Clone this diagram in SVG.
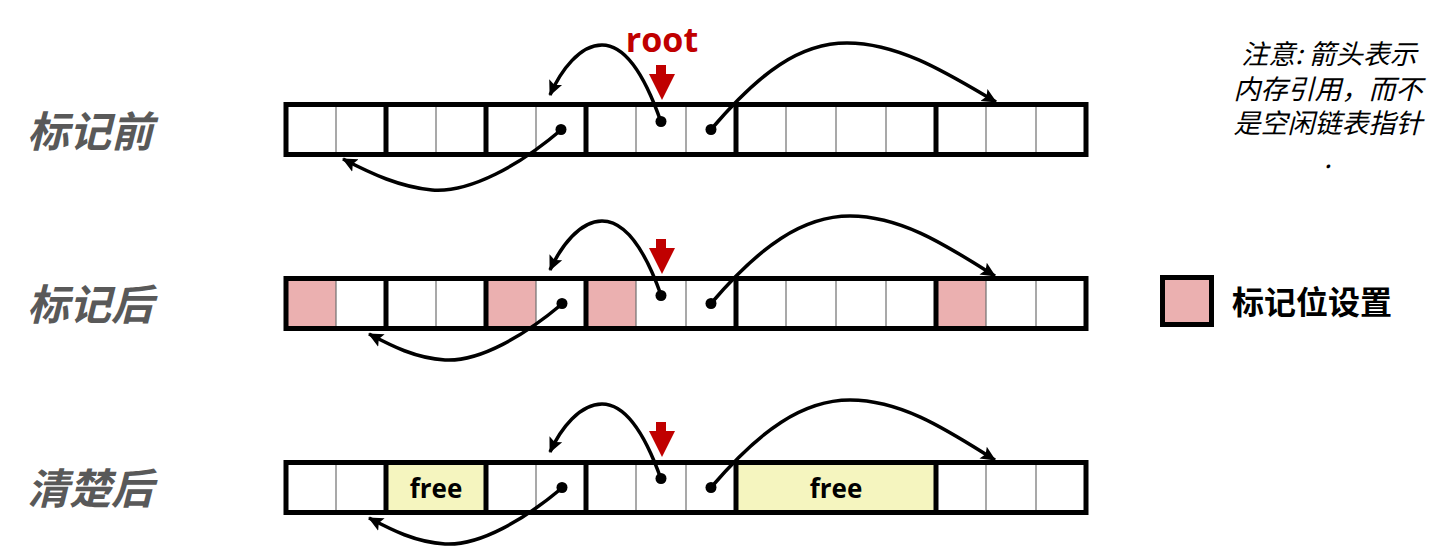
<svg xmlns="http://www.w3.org/2000/svg" width="1449" height="549" viewBox="0 0 1449 549">
<style>
.frame{fill:none;stroke:#000;stroke-width:5}
.thick{stroke:#000;stroke-width:5}
.thin{stroke:#707070;stroke-width:1.2}
.mark{fill:#ebb0b0}
.free{fill:#f5f5bf}
.conn{fill:none;stroke:#000;stroke-width:3.5}
.dot{fill:#000}
.rootarrow{fill:#c00000}
.lbl{font-family:"Noto Sans CJK SC","Noto Sans",sans-serif;font-size:42px;font-weight:bold;font-style:italic;fill:#595959}
.note{font-family:"Noto Sans CJK SC","Noto Sans",sans-serif;font-size:27px;font-style:italic;fill:#000}
.leg{font-family:"Noto Sans CJK SC","Noto Sans",sans-serif;font-size:32px;font-weight:bold;fill:#000}
.word{font-family:"Open Sans","Liberation Sans",sans-serif;font-weight:bold;fill:#000}
</style>
<defs>
<marker id="ah" markerUnits="userSpaceOnUse" markerWidth="16" markerHeight="16" viewBox="0 0 16 16" refX="14" refY="8" orient="auto">
<path d="M0,1 L15,8 L0,15 L3,8 Z" fill="#000"/>
</marker>
</defs>

<g id="label-before"><text class="lbl" x="27" y="147">标记前</text></g>
<g id="label-after-mark"><text class="lbl" x="27" y="320">标记后</text></g>
<g id="label-after-sweep"><text class="lbl" x="27" y="504">清楚后</text></g>

<g id="root-label"><text class="word" x="662" y="52" font-size="34" text-anchor="middle" style="fill:#c00000">root</text></g>

<g id="row-before">
<line class="thin" x1="336" y1="104.5" x2="336" y2="154.5"/>
<line class="thin" x1="436" y1="104.5" x2="436" y2="154.5"/>
<line class="thin" x1="536" y1="104.5" x2="536" y2="154.5"/>
<line class="thin" x1="636" y1="104.5" x2="636" y2="154.5"/>
<line class="thin" x1="686" y1="104.5" x2="686" y2="154.5"/>
<line class="thin" x1="786" y1="104.5" x2="786" y2="154.5"/>
<line class="thin" x1="836" y1="104.5" x2="836" y2="154.5"/>
<line class="thin" x1="886" y1="104.5" x2="886" y2="154.5"/>
<line class="thin" x1="986" y1="104.5" x2="986" y2="154.5"/>
<line class="thin" x1="1036" y1="104.5" x2="1036" y2="154.5"/>
<line class="thick" x1="386" y1="104.5" x2="386" y2="154.5"/>
<line class="thick" x1="486" y1="104.5" x2="486" y2="154.5"/>
<line class="thick" x1="586" y1="104.5" x2="586" y2="154.5"/>
<line class="thick" x1="736" y1="104.5" x2="736" y2="154.5"/>
<line class="thick" x1="936" y1="104.5" x2="936" y2="154.5"/>
<rect class="frame" x="286" y="104.5" width="800" height="50"/>
<polygon class="rootarrow" points="656,65 666,65 666,74 675,74 662,100 649,74 656,74"/>
</g>

<g id="row-after-mark">
<rect class="mark" x="286" y="278.5" width="50" height="50"/>
<rect class="mark" x="486" y="278.5" width="50" height="50"/>
<rect class="mark" x="586" y="278.5" width="50" height="50"/>
<rect class="mark" x="936" y="278.5" width="50" height="50"/>
<line class="thin" x1="336" y1="278.5" x2="336" y2="328.5"/>
<line class="thin" x1="436" y1="278.5" x2="436" y2="328.5"/>
<line class="thin" x1="536" y1="278.5" x2="536" y2="328.5"/>
<line class="thin" x1="636" y1="278.5" x2="636" y2="328.5"/>
<line class="thin" x1="686" y1="278.5" x2="686" y2="328.5"/>
<line class="thin" x1="786" y1="278.5" x2="786" y2="328.5"/>
<line class="thin" x1="836" y1="278.5" x2="836" y2="328.5"/>
<line class="thin" x1="886" y1="278.5" x2="886" y2="328.5"/>
<line class="thin" x1="986" y1="278.5" x2="986" y2="328.5"/>
<line class="thin" x1="1036" y1="278.5" x2="1036" y2="328.5"/>
<line class="thick" x1="386" y1="278.5" x2="386" y2="328.5"/>
<line class="thick" x1="486" y1="278.5" x2="486" y2="328.5"/>
<line class="thick" x1="586" y1="278.5" x2="586" y2="328.5"/>
<line class="thick" x1="736" y1="278.5" x2="736" y2="328.5"/>
<line class="thick" x1="936" y1="278.5" x2="936" y2="328.5"/>
<rect class="frame" x="286" y="278.5" width="800" height="50"/>
<polygon class="rootarrow" points="656,239 666,239 666,248 675,248 662,274 649,248 656,248"/>
</g>

<g id="row-after-sweep">
<rect class="free" x="386" y="462.5" width="100" height="50"/>
<rect class="free" x="736" y="462.5" width="200" height="50"/>
<line class="thin" x1="336" y1="462.5" x2="336" y2="512.5"/>
<line class="thin" x1="536" y1="462.5" x2="536" y2="512.5"/>
<line class="thin" x1="636" y1="462.5" x2="636" y2="512.5"/>
<line class="thin" x1="686" y1="462.5" x2="686" y2="512.5"/>
<line class="thin" x1="986" y1="462.5" x2="986" y2="512.5"/>
<line class="thin" x1="1036" y1="462.5" x2="1036" y2="512.5"/>
<line class="thick" x1="386" y1="462.5" x2="386" y2="512.5"/>
<line class="thick" x1="486" y1="462.5" x2="486" y2="512.5"/>
<line class="thick" x1="586" y1="462.5" x2="586" y2="512.5"/>
<line class="thick" x1="736" y1="462.5" x2="736" y2="512.5"/>
<line class="thick" x1="936" y1="462.5" x2="936" y2="512.5"/>
<rect class="frame" x="286" y="462.5" width="800" height="50"/>
<text class="word" x="436" y="498" font-size="26" text-anchor="middle">free</text>
<text class="word" x="836" y="498" font-size="26" text-anchor="middle">free</text>
<polygon class="rootarrow" points="656,422 666,422 666,431 675,431 662,457 649,431 656,431"/>
</g>

<g id="connectors">
<path class="conn" marker-end="url(#ah)" d="M561,130 C520,165 470,193 432,190 C400,187 372,174 343,159"/>
<path class="conn" marker-end="url(#ah)" d="M661,122 C645,76 625,45 602,45 C580,45 561,70 550,95"/>
<path class="conn" marker-end="url(#ah)" d="M711,129.5 C760,72 800,43 847,43 C900,43 950,75 996,102"/>
<circle class="dot" cx="561" cy="129.5" r="5.5"/>
<circle class="dot" cx="661" cy="121.5" r="5.5"/>
<circle class="dot" cx="711" cy="129.5" r="5.5"/>

<path class="conn" marker-end="url(#ah)" d="M562,304 C525,335 480,362 445,360 C415,358 392,346 369,334"/>
<path class="conn" marker-end="url(#ah)" d="M661,295 C645,250 625,221 602,221 C580,221 561,246 550,270"/>
<path class="conn" marker-end="url(#ah)" d="M711,303.5 C760,246 803,216 850,216 C903,216 950,248 995,276"/>
<circle class="dot" cx="562" cy="303.5" r="5.5"/>
<circle class="dot" cx="661" cy="295.5" r="5.5"/>
<circle class="dot" cx="711" cy="303.5" r="5.5"/>

<path class="conn" marker-end="url(#ah)" d="M562,488 C525,519 480,546 445,544 C415,542 392,530 369,518"/>
<path class="conn" marker-end="url(#ah)" d="M661,479 C645,434 625,404 602,404 C580,404 561,428 550,452"/>
<path class="conn" marker-end="url(#ah)" d="M711,487.5 C760,430 803,400 850,400 C903,400 950,432 995,460"/>
<circle class="dot" cx="562" cy="487.5" r="5.5"/>
<circle class="dot" cx="661" cy="478.5" r="5.5"/>
<circle class="dot" cx="711" cy="487.5" r="5.5"/>
</g>

<g id="legend">
<rect x="1162.5" y="277.5" width="49" height="47" fill="#ebb0b0" stroke="#000" stroke-width="5"/>
<text class="leg" x="1232" y="314">标记位设置</text>
</g>

<g id="note">
<text class="note" x="1329" y="64" text-anchor="middle">注意: 箭头表示</text>
<text class="note" x="1328" y="98.5" text-anchor="middle">内存引用，而不</text>
<text class="note" x="1328" y="133" text-anchor="middle">是空闲链表指针</text>
<text class="note" x="1328" y="167.5" text-anchor="middle">.</text>
</g>
</svg>
